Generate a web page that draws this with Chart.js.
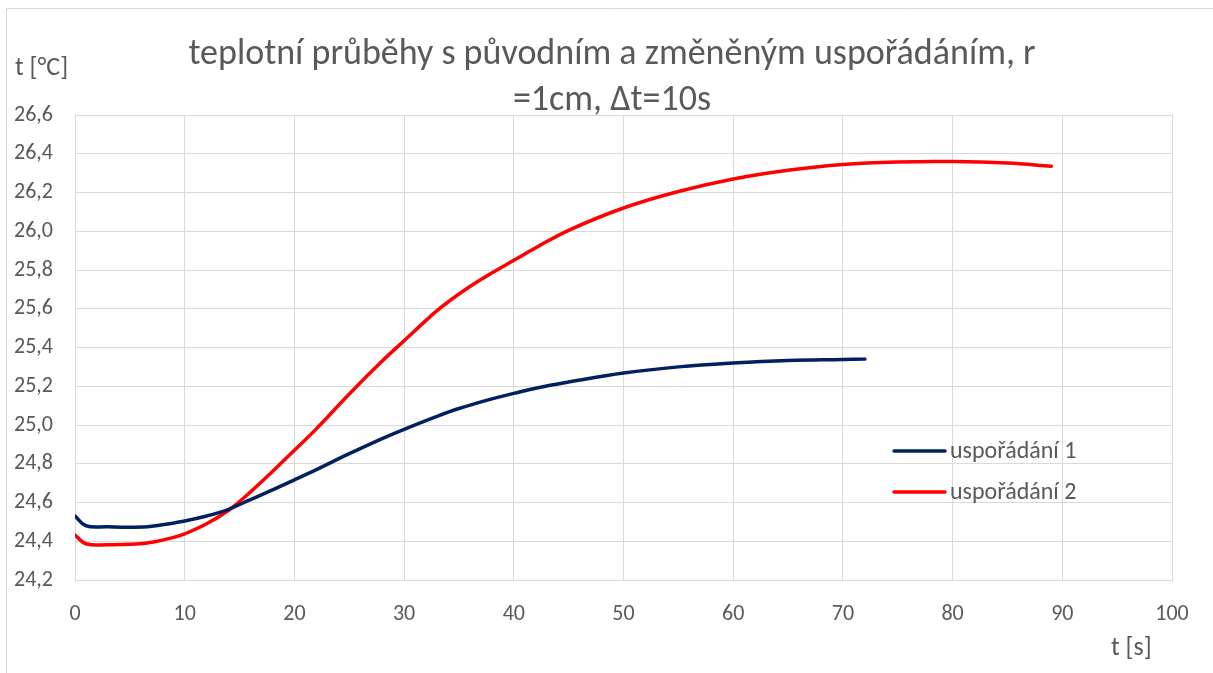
<!DOCTYPE html>
<html>
<head>
<meta charset="utf-8">
<script src="https://cdn.jsdelivr.net/npm/chart.js@4.4.1/dist/chart.umd.min.js"></script>
<style>
  html, body { margin: 0; padding: 0; background: #fff; }
  #wrap { width: 1213px; height: 673px; }
</style>
</head>
<body>
<div id="wrap"><canvas id="chart" width="1213" height="673"></canvas></div>
<script>
// values
const timeBlue = [0, 1, 3, 5, 7, 10, 12, 14, 16, 18, 20, 22, 25, 28, 30, 33, 35, 38, 40, 42, 44, 45, 50, 55, 60, 65, 70, 72];
const tempBlue = [24.53, 24.48, 24.475, 24.472, 24.477, 24.505, 24.53, 24.565, 24.615, 24.665, 24.717, 24.77, 24.852, 24.93, 24.978, 25.045, 25.085, 25.135, 25.163, 25.19, 25.212, 25.222, 25.268, 25.30, 25.32, 25.333, 25.338, 25.34];

const timeRed = [0, 1, 3, 5, 7, 9, 10, 12, 14, 16, 18, 20, 22, 25, 28, 30, 32, 33, 34, 36, 38, 40, 42, 45, 50, 55, 60, 65, 70, 75, 80, 85, 89];
const tempRed = [24.432, 24.387, 24.382, 24.384, 24.395, 24.42, 24.438, 24.49, 24.56, 24.655, 24.76, 24.87, 24.98, 25.16, 25.33, 25.435, 25.54, 25.59, 25.635, 25.715, 25.785, 25.85, 25.915, 26.005, 26.12, 26.205, 26.27, 26.315, 26.345, 26.358, 26.36, 26.352, 26.336];

const seriesNames = ['uspořádání 1', 'uspořádání 2'];
const seriesColors = ['#002060', '#FF0000'];
const titleLines = ['teplotní průběhy s původním a změněným uspořádáním, r', '=1cm, Δt=10s'];
const yTitle = 't [°C]';
const xTitle = 't [s]';

const FONT = 'Carlito, Lato, "Open Sans", sans-serif';
const TEXT = '#595959';
const GRID = '#d9d9d9';

const toPoints = (xs, ys) => xs.map((x, i) => ({ x: x, y: ys[i] }));

// title, axis names, legend and frame drawn by hand like the Excel layout
const decorations = {
    id: 'decorations',
    beforeDraw(chart) {
        const ctx = chart.ctx;
        ctx.save();
        ctx.fillStyle = '#fff';
        ctx.fillRect(0, 0, chart.width, chart.height);
        ctx.strokeStyle = GRID;
        ctx.lineWidth = 1;
        ctx.beginPath();
        ctx.moveTo(6.5, chart.height);
        ctx.lineTo(6.5, 8.5);
        ctx.lineTo(chart.width, 8.5);
        ctx.stroke();
        ctx.restore();
    },
    afterDraw(chart) {
        const ctx = chart.ctx;
        ctx.save();
        ctx.fillStyle = TEXT;
        ctx.textBaseline = 'alphabetic';

        // title
        ctx.font = '36px ' + FONT;
        ctx.textAlign = 'center';
        ctx.fillText(titleLines[0], 612, 64);
        ctx.fillText(titleLines[1], 612, 110);

        // axis names
        ctx.font = '26px ' + FONT;
        ctx.textAlign = 'left';
        ctx.fillText(yTitle, 15, 75);
        ctx.fillText(xTitle, 1111, 655);

        // legend
        const legendY = [451, 492];
        ctx.font = '24px ' + FONT;
        chart.data.datasets.forEach((ds, i) => {
            ctx.strokeStyle = ds.borderColor;
            ctx.lineWidth = 3.5;
            ctx.lineCap = 'round';
            ctx.beginPath();
            ctx.moveTo(894, legendY[i]);
            ctx.lineTo(945, legendY[i]);
            ctx.stroke();
            ctx.textBaseline = 'middle';
            ctx.fillText(ds.label, 950, legendY[i] + 1);
        });
        ctx.restore();
    }
};

new Chart(document.getElementById('chart').getContext('2d'), {
    type: 'line',
    data: {
        datasets: [
            {
                label: seriesNames[0],
                data: toPoints(timeBlue, tempBlue),
                borderColor: seriesColors[0],
                backgroundColor: seriesColors[0],
                borderWidth: 3.5,
                pointRadius: 0,
                tension: 0.4,
                borderCapStyle: 'round'
            },
            {
                label: seriesNames[1],
                data: toPoints(timeRed, tempRed),
                borderColor: seriesColors[1],
                backgroundColor: seriesColors[1],
                borderWidth: 3.5,
                pointRadius: 0,
                tension: 0.4,
                borderCapStyle: 'round'
            }
        ]
    },
    options: {
        responsive: false,
        animation: false,
        devicePixelRatio: 1,
        layout: { padding: { top: 115, right: 41, bottom: 0, left: 0 } },
        plugins: {
            legend: { display: false },
            title: { display: false },
            tooltip: { enabled: false }
        },
        scales: {
            x: {
                type: 'linear',
                min: 0,
                max: 100,
                ticks: {
                    stepSize: 10,
                    color: TEXT,
                    font: { family: FONT, size: 22 },
                    padding: 21,
                    maxRotation: 0
                },
                grid: { color: GRID, lineWidth: 1, drawTicks: false },
                border: { color: GRID },
                afterFit(scale) { scale.height = 93; }
            },
            y: {
                min: 24.2,
                max: 26.6,
                ticks: {
                    stepSize: 0.2,
                    color: TEXT,
                    font: { family: FONT, size: 22 },
                    padding: 22,
                    callback: v => v.toFixed(1).replace('.', ',')
                },
                grid: { color: GRID, lineWidth: 1, drawTicks: false },
                border: { color: GRID },
                afterFit(scale) { scale.width = 75; }
            }
        }
    },
    plugins: [decorations]
});
</script>
</body>
</html>
